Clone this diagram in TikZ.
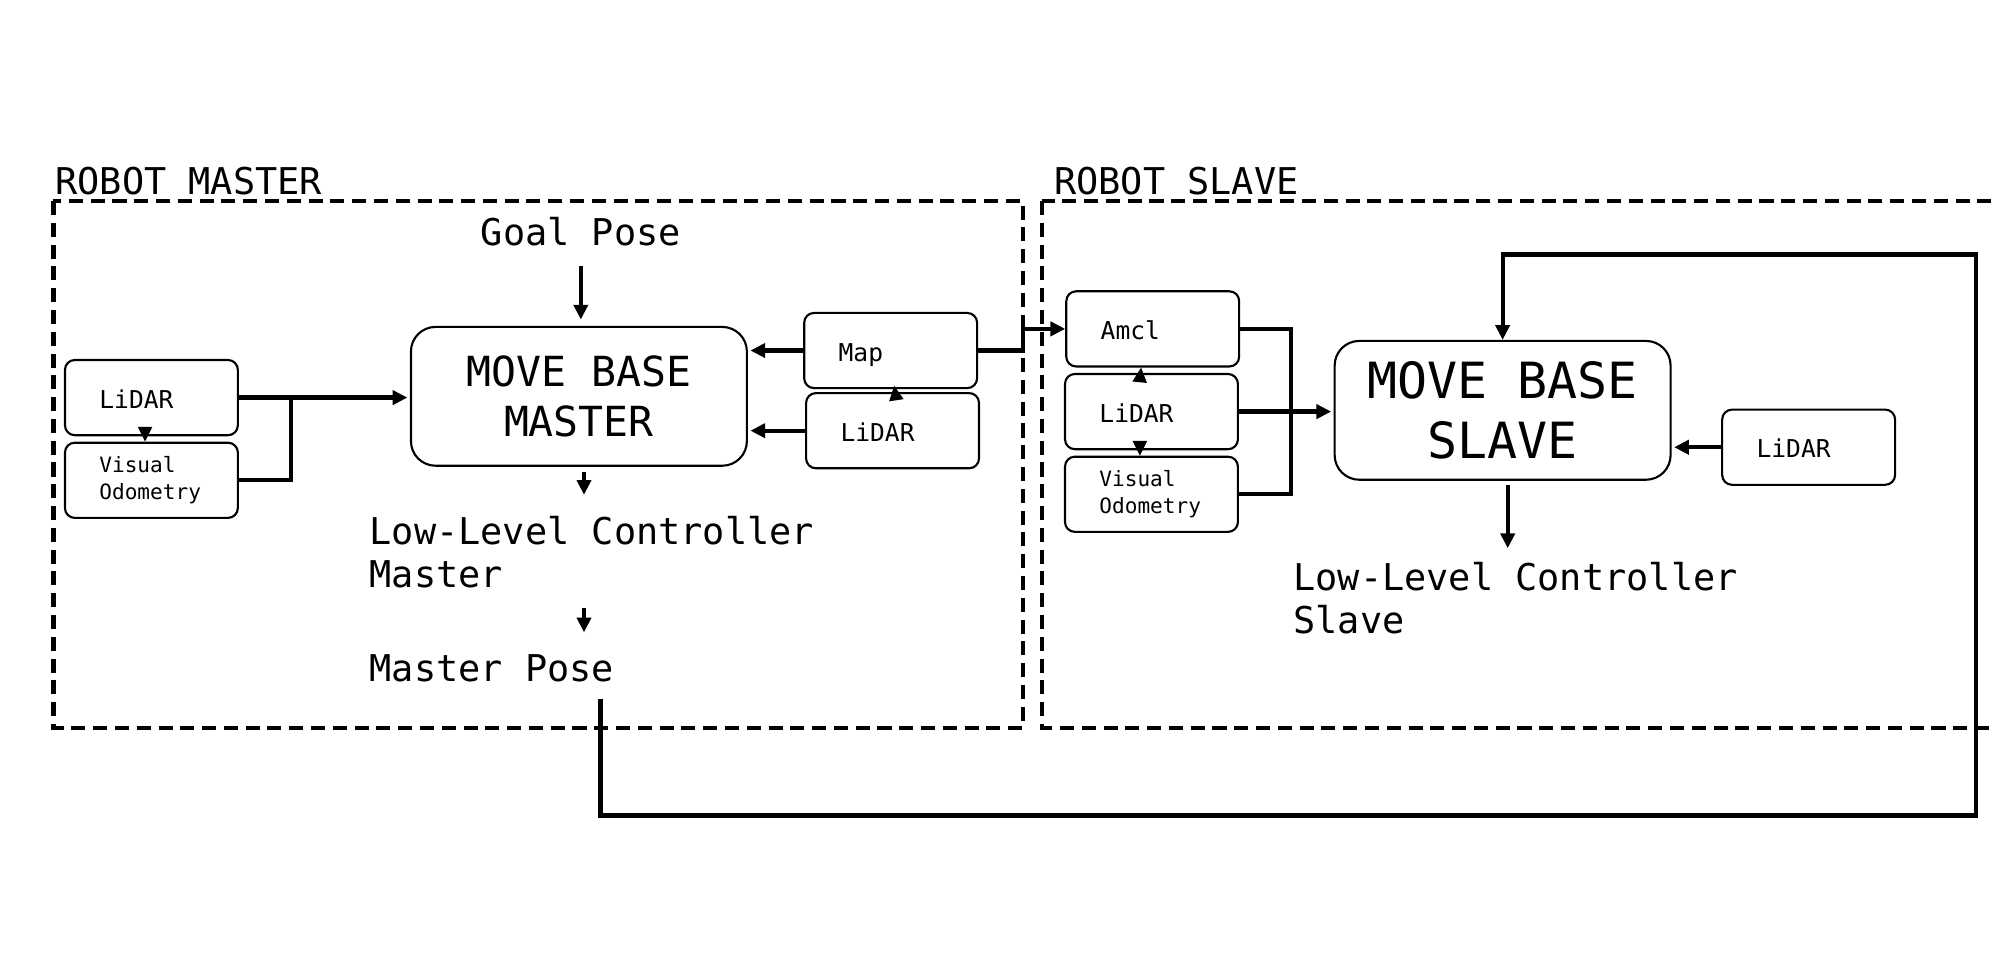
\documentclass[tikz,border=0pt]{standalone}
\usepackage{fontspec}
\newfontfamily\monofont{DejaVu Sans Mono}
\usetikzlibrary{arrows.meta}

\begin{document}
\begin{tikzpicture}[x=0.0127232cm, y=-0.0127232cm, >={Triangle[length=4.2pt,width=4pt]}]
	\tikzstyle{box} = [draw=black, line width=0.6pt, rounded corners=2.8pt, minimum height=21.4pt, text width=29.6pt, inner xsep=9.8pt, inner ysep=0pt, align=left];
	\tikzstyle{sensor} = [box, text height=7pt, text depth=1pt, font=\monofont\fontsize{7}{8}\selectfont];
	\tikzstyle{odom} = [box, font=\monofont\fontsize{6}{7.6}\selectfont];
	\tikzstyle{planner} = [draw=black, line width=0.6pt, rounded corners=7pt, minimum width=95.6pt, minimum height=39.5pt, inner sep=0pt, align=center];
	\tikzstyle{label} = [inner sep=0pt, anchor=base west, align=left, font=\monofont\fontsize{10.5}{12.3}\selectfont];
	\tikzstyle{frame} = [line width=1.2pt, dash pattern=on 4pt off 2.2pt];
	\tikzstyle{link} = [line width=1.2pt];
	\tikzstyle{tick} = [line width=0.6pt];

	\clip (0,0) rectangle (1568,750);

	% robot frames
	\draw[frame] (42,158) rectangle (804,572);
	\draw[frame] (819,158) rectangle (1600,572);
	\node[label] (robotA) at (43,152.5) {ROBOT MASTER};
	\node[label] (robotB) at (828,153) {ROBOT SLAVE};

	% master side
	\node[label, anchor=base] (goal) at (456.5,193) {Goal Pose};
	\node[sensor] (lidarA) at (119,312.5) {LiDAR};
	\node[odom] (voA) at (119,377.5) {Visual\\Odometry};
	\node[planner, font=\monofont\fontsize{11.8}{14.45}\selectfont] (mbm) at (455,311.5) {MOVE BASE\\MASTER};
	\node[sensor] (map) at (700,275.5) {Map};
	\node[sensor] (lidarB) at (701.5,338.5) {LiDAR};
	\node[label] (llcA) at (290,462) {Low-Level Controller\\Master};
	\node[label] (poseA) at (290,536) {Master Pose};

	% slave side
	\node[sensor] (amcl) at (906,258.5) {Amcl};
	\node[sensor] (lidarC) at (905,323.5) {LiDAR};
	\node[odom] (voC) at (905,388.5) {Visual\\Odometry};
	\node[planner, font=\monofont\fontsize{14.2}{17}\selectfont] (mbs) at (1181,322.5) {MOVE BASE\\SLAVE};
	\node[sensor] (lidarD) at (1421.5,351.5) {LiDAR};
	\node[label] (llcB) at (1016,498) {Low-Level Controller\\Slave};

	% master links
	\draw[->,link,shorten >=1.8pt] (goal.south) ++(0,15) -- (goal.south |- mbm.north);
	\draw[->,link,shorten >=0.7pt] (lidarA.east) -- (lidarA.east -| mbm.west);
	\draw[link] (voA.east) -- ++(41,0) coordinate (jA) -- (jA |- lidarA.east);
	\draw[->,tick] ([xshift=-1.8pt,yshift=2.1pt]lidarA.south) -- ([xshift=-1.8pt]voA.north);
	\draw[->,link,shorten >=0.7pt] (map.west) -- (map.west -| mbm.east);
	\draw[->,link,shorten >=0.7pt] (lidarB.west) -- (lidarB.west -| mbm.east);
	\draw[->,tick] ([xshift=1pt,yshift=-1.8pt]lidarB.north) -- ([xshift=1pt,yshift=1pt]map.south);
	\draw[->,link] (mbm.south) ++(4,4) -- ++(0,18);
	\draw[->,link] (mbm.south |- poseA.base) ++(4,-58) -- ++(0,19);

	% master to slave
	\draw[->,link] (map.east) -- ++(35,0) |- (amcl.west);
	\draw[->,link] (poseA.base west) ++(182,13) |- (1553,641) -- (1553,200) -| (mbs.north);

	% slave links
	\draw[link] (amcl.east) -- ++(40,0) coordinate (jB) -- (jB |- voC.east) -- (voC.east);
	\draw[->,link,shorten >=0.7pt] (lidarC.east) -- (lidarC.east -| mbs.west);
	\draw[->,tick] ([xshift=-3.3pt,yshift=-2.1pt]lidarC.north) -- ([xshift=-3.3pt]amcl.south);
	\draw[->,tick] ([xshift=-3.3pt,yshift=2.1pt]lidarC.south) -- ([xshift=-3.3pt]voC.north);
	\draw[->,link,shorten >=0.7pt] (lidarD.west) -- (lidarD.west -| mbs.east);
	\draw[->,link] (mbs.south) ++(4,3) -- ++(0,50);
\end{tikzpicture}
\end{document}
